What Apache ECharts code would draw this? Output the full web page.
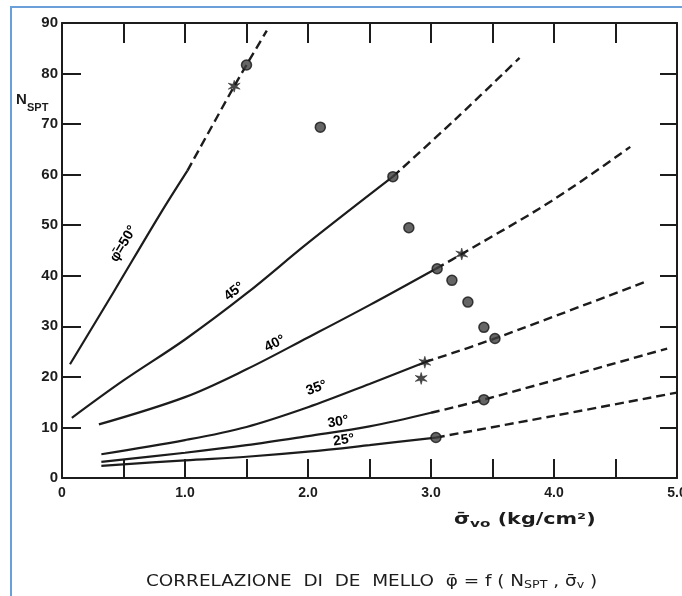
<!DOCTYPE html>
<html>
<head>
<meta charset="utf-8">
<script src="https://cdn.jsdelivr.net/npm/echarts/dist/echarts.min.js"></script>
<style>
  html, body { margin: 0; padding: 0; background: #ffffff; }
  #chart { width: 682px; height: 596px; }
</style>
</head>
<body>
<div id="chart"></div>
<script>
// De Mello correlation: N_SPT versus effective vertical stress, one curve per friction angle.

// Tick labels
const xTickValues = [0, 1, 2, 3, 4, 5];
const xTickLabels = ['0', '1.0', '2.0', '3.0', '4.0', '5.0'];
const yTickLabels = ['0', '10', '20', '30', '40', '50', '60', '70', '80', '90'];

// Curves: solid (established) part and dashed (extrapolated) part, [sigma_vo, N_SPT]
const phi50Solid  = [[0.065, 22.5], [0.42, 36.8], [0.80, 52.3], [1.02, 60.8]];
const phi50Dashed = [[1.02, 60.8], [1.40, 77.5], [1.50, 81.7], [1.665, 88.5]];

const phi45Solid  = [[0.08, 11.9], [0.5, 19.3], [1.0, 27.4], [1.5, 36.5], [2.0, 46.5], [2.69, 59.6]];
const phi45Dashed = [[2.69, 59.6], [3.2, 71.0], [3.72, 83.1]];

const phi40Solid  = [[0.30, 10.6], [1.0, 16.0], [1.5, 21.5], [2.0, 27.8], [2.5, 34.2], [3.04, 41.4]];
const phi40Dashed = [[3.04, 41.4], [3.25, 44.3], [3.98, 54.8], [4.62, 65.5]];

const phi35Solid  = [[0.32, 4.7], [1.0, 7.5], [1.5, 10.1], [2.0, 14.0], [2.5, 18.6], [2.95, 22.9]];
const phi35Dashed = [[2.95, 22.9], [3.52, 27.6], [4.73, 38.7]];

const phi30Solid  = [[0.32, 3.2], [1.0, 5.0], [1.5, 6.5], [2.0, 8.3], [2.5, 10.2], [3.0, 12.9]];
const phi30Dashed = [[3.0, 12.9], [3.43, 15.5], [4.92, 25.6]];

const phi25Solid  = [[0.32, 2.4], [1.0, 3.5], [1.5, 4.2], [2.0, 5.2], [2.5, 6.5], [3.04, 8.0]];
const phi25Dashed = [[3.04, 8.0], [4.0, 12.3], [5.0, 16.9]];

// Test results
const circlePoints = [[1.50, 81.7], [2.10, 69.4], [2.69, 59.6], [2.82, 49.5], [3.05, 41.4],
                      [3.17, 39.1], [3.30, 34.8], [3.43, 29.8], [3.52, 27.6], [3.43, 15.5], [3.04, 8.0]];
const starPoints = [[1.40, 77.5], [3.25, 44.3], [2.95, 22.9], [2.92, 19.7]];

// Curve captions (anchored in data coordinates)
const curveLabelText  = ['\u03C6\u0304=50\u00B0', '45\u00B0', '40\u00B0', '35\u00B0', '30\u00B0', '25\u00B0'];
const curveLabelPos   = [[0.50, 46.3], [1.40, 36.9], [1.73, 26.6], [2.07, 17.8], [2.245, 11.1], [2.29, 7.5]];
const curveLabelAngle = [59, 38, 26, 20, 10, 8];

const curves = [
  [phi50Solid, phi50Dashed], [phi45Solid, phi45Dashed], [phi40Solid, phi40Dashed],
  [phi35Solid, phi35Dashed], [phi30Solid, phi30Dashed], [phi25Solid, phi25Dashed]
];

const INK = '#1c1c1c';
const FONT = '"Liberation Sans", Arial, sans-serif';
const WIDE = '"DejaVu Sans", sans-serif';

// six-armed star marker
function starPath() {
  const pts = [];
  for (let i = 0; i < 12; i++) {
    const a = (i * 30 - 90) * Math.PI / 180;
    const r = i % 2 === 0 ? 10 : 3.6;
    pts.push((10 + r * Math.cos(a)).toFixed(2) + ' ' + (10 + r * Math.sin(a)).toFixed(2));
  }
  return 'path://M' + pts.join(' L') + ' Z';
}

const series = [];
curves.forEach(function (c) {
  series.push({
    type: 'line', data: c[0], smooth: 0.35, showSymbol: false, silent: true,
    lineStyle: { color: INK, width: 2.2 }, z: 3
  });
  series.push({
    type: 'line', data: c[1], smooth: 0.35, showSymbol: false, silent: true,
    lineStyle: { color: INK, width: 2.4, type: [9, 5] }, z: 3
  });
});

series.push({
  type: 'scatter', data: circlePoints, symbol: 'circle', symbolSize: 10, z: 5,
  itemStyle: { color: '#3e3e3e', borderColor: '#151515', borderWidth: 1.5 }
});
series.push({
  type: 'scatter', data: starPoints, symbol: starPath(), symbolSize: 12, z: 5,
  itemStyle: { color: INK, borderColor: INK, borderWidth: 0.6 }
});
series.push({
  type: 'scatter', symbol: 'circle', symbolSize: 1, z: 6, silent: true,
  itemStyle: { color: '#ffffff', opacity: 1 },
  data: curveLabelPos.map(function (p, i) {
    return {
      value: p, name: curveLabelText[i],
      label: { rotate: curveLabelAngle[i] }
    };
  }),
  label: {
    show: true, position: 'inside', formatter: '{b}', opacity: 1,
    textBorderWidth: 0, textShadowBlur: 0,
    fontFamily: FONT, fontSize: 14, fontWeight: 'bold', color: '#000000'
  }
});

function xLabel(v) {
  const i = xTickValues.indexOf(v);
  return i >= 0 ? xTickLabels[i] : '';
}

const axisLineStyle = { color: INK, width: 2 };
const tickStyle = { color: INK, width: 2 };

const option = {
  animation: false,
  backgroundColor: '#ffffff',
  grid: { left: 62, right: 5, top: 23, bottom: 118, containLabel: false, outerBoundsMode: 'none' },
  xAxis: [
    {
      type: 'value', position: 'bottom', min: 0, max: 5, interval: 0.5,
      axisLine: { onZero: false, lineStyle: axisLineStyle },
      axisTick: { inside: true, length: 19, lineStyle: tickStyle },
      splitLine: { show: false },
      axisLabel: {
        formatter: xLabel, margin: 8, color: INK, fontFamily: FONT,
        fontSize: 14, fontWeight: 'bold', showMinLabel: true, showMaxLabel: true
      }
    },
    {
      type: 'value', position: 'top', min: 0, max: 5, interval: 0.5,
      axisLine: { onZero: false, lineStyle: axisLineStyle },
      axisTick: { inside: true, length: 20, lineStyle: tickStyle },
      splitLine: { show: false },
      axisLabel: { show: false }
    }
  ],
  yAxis: [
    {
      type: 'value', position: 'left', min: 0, max: 90, interval: 10,
      axisLine: { onZero: false, lineStyle: axisLineStyle },
      axisTick: { inside: true, length: 19, lineStyle: tickStyle },
      splitLine: { show: false },
      axisLabel: {
        formatter: function (v) { return yTickLabels[Math.round(v / 10)]; },
        margin: 4, color: INK, fontFamily: FONT, fontSize: 15, fontWeight: 'bold'
      }
    },
    {
      type: 'value', position: 'right', min: 0, max: 90, interval: 10,
      axisLine: { onZero: false, lineStyle: axisLineStyle },
      axisTick: { inside: true, length: 17, lineStyle: tickStyle },
      splitLine: { show: false },
      axisLabel: { show: false }
    }
  ],
  graphic: [
    {
      type: 'rect', silent: true, z: 0,
      shape: { x: 11, y: 7, width: 720, height: 640 },
      style: { fill: 'none', stroke: '#6a9fd9', lineWidth: 2 }
    },
    {
      type: 'text', left: 16, top: 92,
      style: { text: 'N', font: 'bold 15px ' + FONT, fill: INK }
    },
    {
      type: 'text', left: 27, top: 102,
      style: { text: 'SPT', font: 'bold 11px ' + FONT, fill: INK }
    },
    {
      type: 'text', x: 454, y: 511, scaleX: 1.38,
      style: {
        rich: {
          m: { font: '600 15px ' + WIDE, fill: INK },
          s: { font: '600 11px ' + WIDE, fill: INK, padding: [8, 0, 0, 0] }
        },
        text: '{m|\u03C3\u0304}{s|vo}{m| (kg/cm\u00B2)}'
      }
    },
    {
      type: 'text', x: 146, y: 572, scaleX: 1.15,
      style: {
        rich: {
          m: { font: '16px ' + WIDE, fill: INK },
          s: { font: '11px ' + WIDE, fill: INK, padding: [8, 0, 0, 0] }
        },
        text: '{m|CORRELAZIONE  DI  DE  MELLO  \u03C6\u0304 = f ( N}{s|SPT}{m| , \u03C3\u0304}{s|v}{m| )}'
      }
    }
  ],
  series: series
};

const chart = echarts.init(document.getElementById('chart'), null, { renderer: 'canvas' });
chart.setOption(option);
</script>
</body>
</html>
